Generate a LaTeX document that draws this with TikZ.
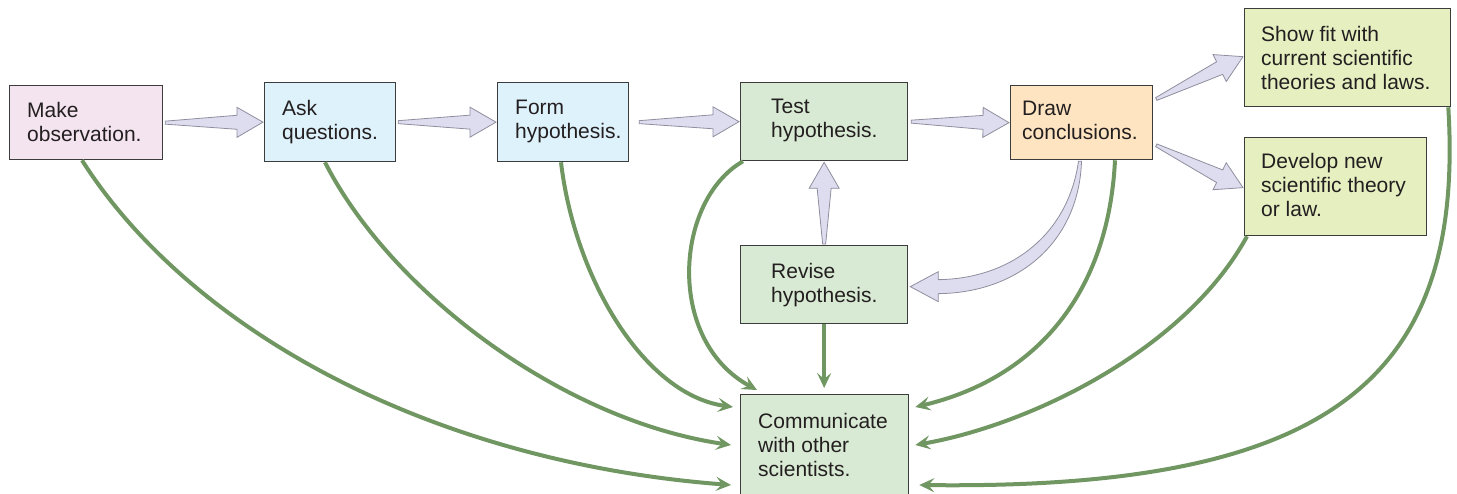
\documentclass[tikz,border=0pt]{standalone}
\usepackage{fontspec}
\setmainfont{Liberation Sans}
\usetikzlibrary{calc,arrows.meta}
\definecolor{gline}{RGB}{112,150,98}
\definecolor{cmake}{HTML}{F3E4EF}
\definecolor{cblue}{HTML}{DEF2FB}
\definecolor{cgreen}{HTML}{D9EAD4}
\definecolor{corange}{HTML}{FEE4C1}
\definecolor{cyell}{HTML}{E5EFC0}
\definecolor{arrfill}{HTML}{DEDDF0}
\definecolor{arrline}{HTML}{8E8E9E}
\definecolor{boxline}{HTML}{3C3C3C}
\definecolor{txtcol}{HTML}{231F20}
\newcommand\blkarrow[2]{%
  \coordinate (ba-h) at ($(#2)!26pt!(#1)$);
  \path[blockarr] ($(#1)!1.5pt!90:(#2)$) -- ($(ba-h)!7pt!90:(#2)$) -- ($(ba-h)!15pt!90:(#2)$) -- (#2)
    -- ($(ba-h)!15pt!-90:(#2)$) -- ($(ba-h)!7pt!-90:(#2)$) -- ($(#1)!1.5pt!-90:(#2)$) -- cycle;}
\begin{document}
\begin{tikzpicture}[x=1pt,y=-1pt,
  box/.style={draw=boxline, line width=1.3pt, rectangle, inner sep=0pt, anchor=north west},
  lbl/.style={anchor=north west, inner sep=0pt, align=left, font=\fontsize{21}{24}\selectfont, text=txtcol},
  blockarr/.style={fill=arrfill, draw=arrline, line width=0.8pt, line join=miter},
  comline/.style={draw=gline, line width=4pt, -{Stealth[length=15pt,width=14pt,inset=6pt]}},
]
\useasboundingbox (0,0) rectangle (1457,493);

% boxes
\node[box, fill=cmake, minimum width=153pt, minimum height=74pt] (make) at (9,85) {};
\node[box, fill=cblue, minimum width=131pt, minimum height=79pt] (ask) at (264,82) {};
\node[box, fill=cblue, minimum width=131pt, minimum height=79pt] (form) at (497,82) {};
\node[box, fill=cgreen, minimum width=167pt, minimum height=78pt] (test) at (740,82) {};
\node[box, fill=corange, minimum width=142pt, minimum height=74pt] (draw) at (1010,85) {};
\node[box, fill=cyell, minimum width=206pt, minimum height=98pt] (show) at (1244,8) {};
\node[box, fill=cyell, minimum width=182pt, minimum height=98pt] (develop) at (1244,137) {};
\node[box, fill=cgreen, minimum width=167pt, minimum height=78pt] (revise) at (740,245) {};
\node[box, fill=cgreen, minimum width=168pt, minimum height=112pt] (comm) at (740,394) {};

% texts
\node[lbl] (make-t) at ($(make.north west)+(18,17.5)$) {Make\\observation.};
\node[lbl] (ask-t) at ($(ask.north west)+(18,18)$) {Ask\\questions.};
\node[lbl] (form-t) at ($(form.north west)+(18,18)$) {Form\\hypothesis.};
\node[lbl] (test-t) at ($(test.north west)+(31,17)$) {Test\\hypothesis.};
\node[lbl] (draw-t) at ($(draw.north west)+(12,16)$) {Draw\\conclusions.};
\node[lbl] (show-t) at ($(show.north west)+(17,18)$) {Show fit with\\current scientific\\theories and laws.};
\node[lbl] (develop-t) at ($(develop.north west)+(17,16)$) {Develop new\\scientific theory\\or law.};
\node[lbl] (revise-t) at ($(revise.north west)+(31,18)$) {Revise\\hypothesis.};
\node[lbl] (comm-t) at ($(comm.north west)+(18,19)$) {Communicate\\with other\\scientists.};

% block arrows
\coordinate (t1) at ($(make.east)+(2,0)$);  \coordinate (h1) at ($(ask.west)+(-1,0)$);
\coordinate (t2) at ($(ask.east)+(2,0)$);   \coordinate (h2) at ($(form.west)+(-1,0)$);
\coordinate (t3) at ($(form.east)+(10,0)$); \coordinate (h3) at ($(test.west)+(-1,0)$);
\coordinate (t4) at ($(test.east)+(3,0)$);  \coordinate (h4) at ($(draw.west)+(-1,0)$);
\coordinate (t5) at ($(draw.north east)+(3,14)$); \coordinate (h5) at ($(show.west)+(-1,-1)$);
\coordinate (t6) at ($(draw.south east)+(3,-15)$); \coordinate (h6) at ($(develop.west)+(-1,1)$);
\coordinate (t7) at ($(revise.north)+(0,-1)$); \coordinate (h7) at ($(test.south)+(0,1)$);
\blkarrow{t1}{h1}
\blkarrow{t2}{h2}
\blkarrow{t3}{h3}
\blkarrow{t4}{h4}
\blkarrow{t5}{h5}
\blkarrow{t6}{h6}
\blkarrow{t7}{h7}

% curved block arrow draw -> revise
\coordinate (dt) at ($(draw.south west)+(70,1)$);
\coordinate (rt) at ($(revise.east)+(2,2)$);
\path[blockarr] ($(dt)+(1.5,0)$) .. controls +(-2.5,78) and +(83,-1) .. ($(rt)+(28,7)$)
  -- ++(0,8) -- (rt) -- ($(rt)+(28,-15)$) -- ++(0,8)
  .. controls +(73,-1) and +(-10.5,73) .. ($(dt)+(-1.5,0)$) -- cycle;

% green connectors to communicate
\draw[comline] ($(make.south west)+(73,0)$) .. controls (190,330) and (430,462) .. ($(comm.north west)+(-9,91)$);
\draw[comline] ($(ask.south west)+(61,0)$) .. controls (390,290) and (560,420) .. ($(comm.north west)+(-9,51)$);
\draw[comline] ($(form.south west)+(64,0)$) .. controls (575,280) and (645,395) .. ($(comm.north west)+(-7,13)$);
\draw[comline] ($(test.south west)+(3,0)$) .. controls (675,200) and (665,340) .. ($(comm.north west)+(17,-4)$);
\draw[comline] (revise.south) -- ($(revise.south |- comm.north)+(0,-6)$);
\draw[comline] ($(draw.south west)+(105,0)$) .. controls (1108,300) and (1030,380) .. ($(comm.north east)+(6,13)$);
\draw[comline] ($(develop.south west)+(3,0)$) .. controls (1185,350) and (1030,425) .. ($(comm.north east)+(6,51)$);
\draw[comline] ($(show.south east)+(-3,0)$) .. controls (1465,380) and (1330,490) .. ($(comm.north east)+(10,91)$);
\end{tikzpicture}
\end{document}
